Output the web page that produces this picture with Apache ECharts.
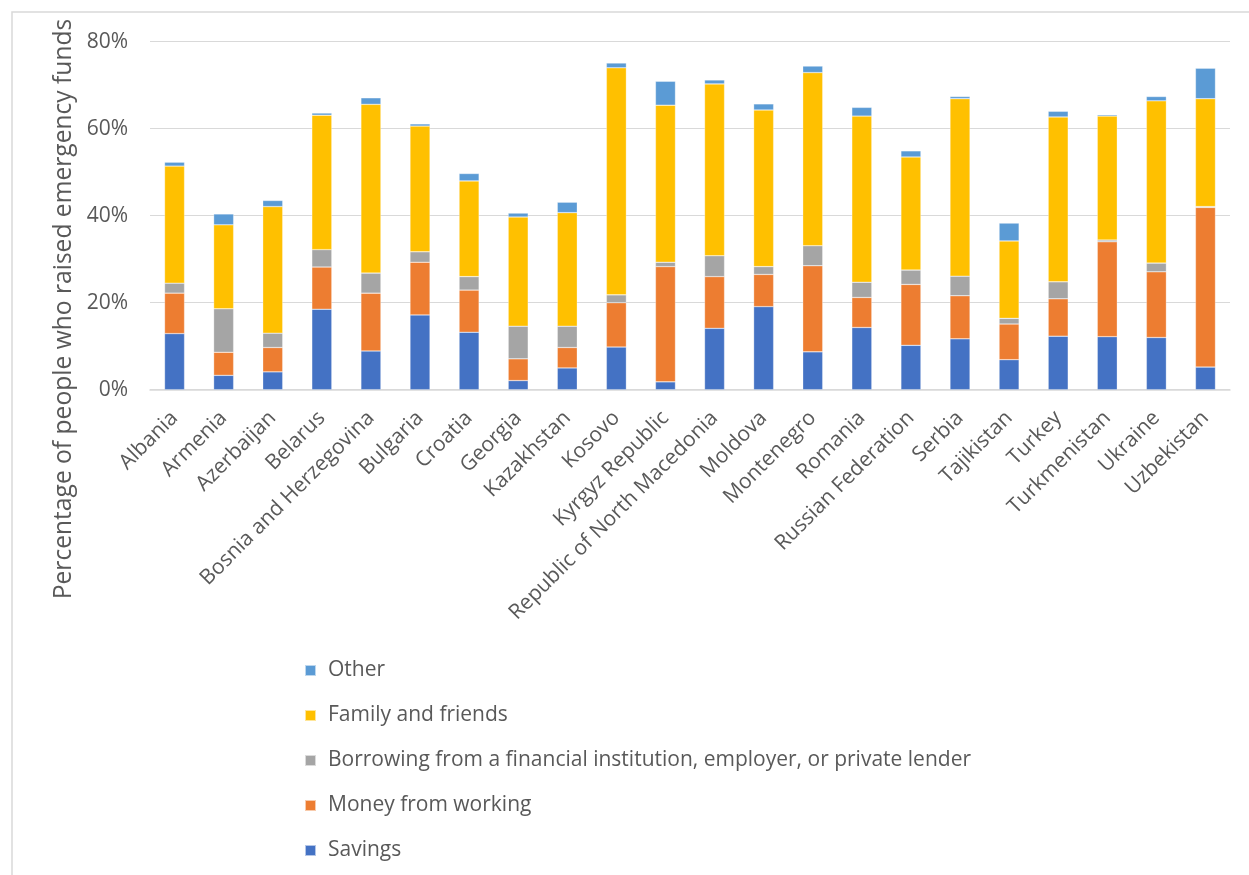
<!DOCTYPE html>
<html>
<head>
<meta charset="utf-8">
<script src="https://cdn.jsdelivr.net/npm/echarts@6/dist/echarts.min.js"></script>
<style>
  html, body { margin: 0; padding: 0; background: #ffffff; }
  #chart { width: 1249px; height: 875px; }
</style>
</head>
<body>
<div id="chart"></div>
<script>
// Countries on the category axis
const countries = [
  'Albania', 'Armenia', 'Azerbaijan', 'Belarus', 'Bosnia and Herzegovina',
  'Bulgaria', 'Croatia', 'Georgia', 'Kazakhstan', 'Kosovo', 'Kyrgyz Republic',
  'Republic of North Macedonia', 'Moldova', 'Montenegro', 'Romania',
  'Russian Federation', 'Serbia', 'Tajikistan', 'Turkey', 'Turkmenistan',
  'Ukraine', 'Uzbekistan'
];

// Share of people (%) by main source of emergency funds
const savings = [12.9, 3.3, 4.1, 18.5, 8.9, 17.2, 13.2, 2.1, 5.0, 9.8, 1.8, 14.1, 19.1, 8.7, 14.3, 10.2, 11.7, 6.9, 12.3, 12.2, 12.0, 5.2];
const moneyFromWorking = [9.3, 5.3, 5.6, 9.7, 13.3, 12.1, 9.7, 5.0, 4.7, 10.2, 26.5, 11.9, 7.4, 19.8, 6.9, 14.0, 9.9, 8.2, 8.6, 21.8, 15.1, 36.7];
const borrowing = [2.3, 10.0, 3.3, 4.0, 4.6, 2.4, 3.1, 7.5, 4.9, 1.8, 1.0, 4.8, 1.8, 4.6, 3.5, 3.3, 4.5, 1.3, 3.9, 0.4, 2.0, 0.2];
const familyAndFriends = [26.9, 19.3, 29.1, 30.9, 38.8, 28.9, 22.0, 25.1, 26.1, 52.2, 36.1, 39.5, 36.0, 39.8, 38.2, 26.0, 40.8, 17.8, 37.9, 28.5, 37.3, 24.8];
const other = [0.9, 2.5, 1.4, 0.5, 1.5, 0.5, 1.7, 0.9, 2.4, 1.1, 5.5, 0.9, 1.4, 1.5, 2.0, 1.4, 0.5, 4.1, 1.3, 0.3, 1.0, 7.0];

// Value axis ticks
const yTicks = [0, 20, 40, 60, 80];

const seriesNames = {
  savings: 'Savings',
  work: 'Money from working',
  borrow: 'Borrowing from a financial institution, employer, or private lender',
  family: 'Family and friends',
  other: 'Other'
};

const colors = {
  savings: '#4472C4',
  work: '#ED7D31',
  borrow: '#A5A5A5',
  family: '#FFC000',
  other: '#5B9BD5'
};

const textColor = '#595959';
const fontFamily = '"Open Sans", "Noto Sans", sans-serif';

function barSeries(name, data, color) {
  return {
    name: name,
    type: 'bar',
    stack: 'total',
    barWidth: 20,
    data: data,
    itemStyle: { color: color, borderColor: 'rgba(255,255,255,0.6)', borderWidth: 0.5 },
    emphasis: { disabled: true }
  };
}

const chart = echarts.init(document.getElementById('chart'), null, { renderer: 'canvas' });

chart.setOption({
  animation: false,
  backgroundColor: '#ffffff',
  textStyle: { fontFamily: fontFamily, color: textColor },
  grid: { left: 150, right: 19, top: 41.7, bottom: 875 - 389.7, containLabel: false },
  xAxis: {
    type: 'category',
    data: countries,
    axisLine: { show: true, lineStyle: { color: '#d9d9d9', width: 1.5 } },
    axisTick: { show: false },
    axisLabel: {
      rotate: 45,
      interval: 0,
      margin: 25,
      fontSize: 21,
      color: textColor,
      fontFamily: fontFamily
    }
  },
  yAxis: {
    type: 'value',
    min: yTicks[0],
    max: yTicks[yTicks.length - 1],
    interval: yTicks[1] - yTicks[0],
    axisLine: { show: false },
    axisTick: { show: false },
    splitLine: { lineStyle: { color: '#d9d9d9', width: 1.2 } },
    axisLabel: {
      formatter: '{value}%',
      fontSize: 21,
      margin: 22,
      color: textColor,
      fontFamily: fontFamily
    }
  },
  legend: {
    orient: 'vertical',
    left: 299,
    top: 655,
    itemWidth: 11,
    itemHeight: 11,
    itemGap: 24,
    icon: 'rect',
    data: [seriesNames.other, seriesNames.family, seriesNames.borrow, seriesNames.work, seriesNames.savings],
    textStyle: { fontSize: 21, color: textColor, fontFamily: fontFamily, lineHeight: 21, padding: [0, 0, 0, 7] }
  },
  graphic: [
    {
      type: 'rect',
      silent: true,
      shape: { x: 12, y: 12, width: 1300, height: 900 },
      style: { fill: 'none', stroke: '#d9d9d9', lineWidth: 1.5 }
    },
    {
      type: 'text',
      silent: true,
      x: 64,
      y: 309,
      rotation: Math.PI / 2,
      style: {
        text: 'Percentage of people who raised emergency funds',
        fontSize: 24.6,
        fontFamily: fontFamily,
        fill: textColor,
        align: 'center',
        verticalAlign: 'middle'
      }
    }
  ],
  series: [
    barSeries(seriesNames.savings, savings, colors.savings),
    barSeries(seriesNames.work, moneyFromWorking, colors.work),
    barSeries(seriesNames.borrow, borrowing, colors.borrow),
    barSeries(seriesNames.family, familyAndFriends, colors.family),
    barSeries(seriesNames.other, other, colors.other)
  ]
});
</script>
</body>
</html>
